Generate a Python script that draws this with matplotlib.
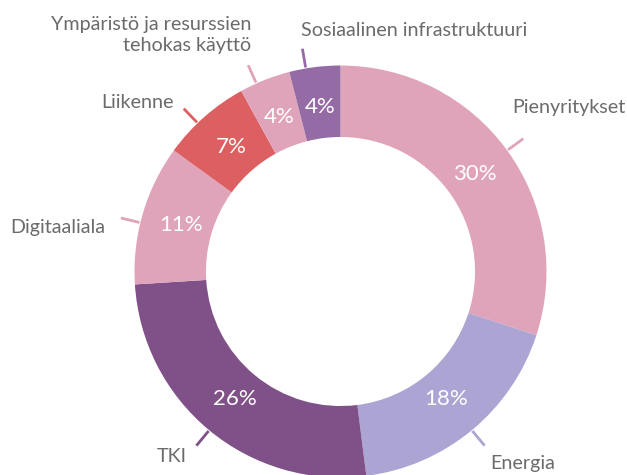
import numpy as np
import matplotlib
matplotlib.use("Agg")
import matplotlib.pyplot as plt

categories = ["Pienyritykset", "Energia", "TKI", "Digitaaliala", "Liikenne",
              "Ympäristö ja resurssien\ntehokas käyttö", "Sosiaalinen infrastruktuuri"]
values = [30, 18, 26, 11, 7, 4, 4]
colors = ["#E0A4BA", "#ACA4D2", "#805189", "#E0A4BA", "#DC5F61", "#E0A4BA", "#956BA6"]

W, H = 627, 475
plt.rcParams['font.family'] = ['Lato', 'DejaVu Sans']
fig = plt.figure(figsize=(W / 100, H / 100), dpi=100)
ax = fig.add_axes([0, 0, 1, 1])

cx, cy = 340.5, H - 271.5
R = 206
wedges, texts, autotexts = ax.pie(
    values, colors=colors, startangle=90, counterclock=False,
    center=(cx, cy), radius=R, frame=True,
    wedgeprops=dict(width=R * 0.347, linewidth=0),
    autopct=lambda p: f"{p:.0f}%", pctdistance=0.805,
    textprops=dict(color="white", fontsize=16))
ax.set_xlim(0, W)
ax.set_ylim(0, H)
ax.axis('off')

# leader lines
for w in wedges:
    mid = ((w.theta1 + w.theta2) / 2) % 360
    ang = np.deg2rad(mid + (2.5 if 95 < mid < 200 else 0))
    r0, r1 = R + 1, R + 20
    ax.plot([cx + r0 * np.cos(ang), cx + r1 * np.cos(ang)],
            [cy + r0 * np.sin(ang), cy + r1 * np.sin(ang)],
            color=w.get_facecolor(), lw=2, solid_capstyle='butt')

# outer labels (image pixel coords: x, y, ha)
label_pos = [(512, 107, 'left'), (490, 463, 'left'), (157, 457, 'left'),
             (10, 228, 'left'), (101, 103, 'left'), (251, 35, 'right'), (301, 30, 'left')]
for cat, (x, y, ha) in zip(categories, label_pos):
    ax.text(x, H - y, cat, ha=ha, va='center', color="#6b6b6b", fontsize=14.2,
            linespacing=1.3)

fig.savefig("out.png", dpi=100)
